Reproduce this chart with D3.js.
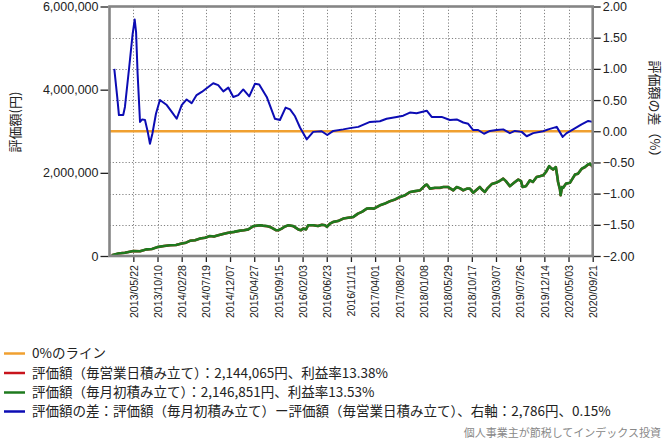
<!DOCTYPE html>
<html><head><meta charset="utf-8">
<script src="https://cdn.jsdelivr.net/npm/d3@7"></script>
<style>body{margin:0;background:#fff}svg{display:block}</style>
</head><body><svg id="c" width="664" height="440"></svg>
<script>
// ---- data ----
const axisStart = "2013-01-03";
const tickDates = ["2013-05-22","2013-10-10","2014-02-28","2014-07-19","2014-12-07","2015-04-27","2015-09-15","2016-02-03","2016-06-23","2016-11-11","2017-04-01","2017-08-20","2018-01-08","2018-05-29","2018-10-17","2019-03-07","2019-07-26","2019-12-14","2020-05-03","2020-09-21"];
const leftTicks = [0, 2000000, 4000000, 6000000];
const rightTicks = [-2, -1.5, -1, -0.5, 0, 0.5, 1, 1.5, 2];

const greenDates = ["2013-01-16","2013-02-22","2013-04-03","2013-05-22","2013-06-30","2013-08-08","2013-09-08","2013-10-15","2013-11-17","2013-12-22","2014-01-26","2014-02-28","2014-03-25","2014-04-17","2014-05-17","2014-06-15","2014-07-14","2014-08-12","2014-09-04","2014-09-29","2014-10-27","2014-11-27","2014-12-30","2015-02-03","2015-02-26","2015-03-23","2015-04-22","2015-05-13","2015-05-31","2015-06-17","2015-07-09","2015-07-28","2015-08-16","2015-09-01","2015-09-14","2015-10-04","2015-10-23","2015-11-12","2015-12-11","2016-01-09","2016-01-25","2016-02-07","2016-02-23","2016-03-07","2016-04-05","2016-05-03","2016-05-26","2016-06-13","2016-06-24","2016-07-12","2016-07-31","2016-08-27","2016-09-27","2016-10-25","2016-11-25","2016-12-22","2017-01-14","2017-02-11","2017-03-02","2017-03-25","2017-04-29","2017-05-28","2017-06-27","2017-07-26","2017-08-24","2017-09-22","2017-10-21","2017-11-19","2017-12-19","2018-01-17","2018-01-28","2018-02-15","2018-03-16","2018-04-14","2018-05-03","2018-05-31","2018-07-01","2018-07-21","2018-08-09","2018-08-28","2018-09-19","2018-10-06","2018-10-25","2018-11-16","2018-12-03","2018-12-15","2019-01-01","2019-01-19","2019-02-10","2019-03-07","2019-03-30","2019-04-18","2019-05-04","2019-05-27","2019-06-20","2019-07-15","2019-07-31","2019-08-09","2019-08-29","2019-09-21","2019-10-08","2019-10-30","2019-11-18","2019-12-07","2019-12-23","2020-01-11","2020-01-21","2020-02-03","2020-02-19","2020-02-28","2020-03-03","2020-03-14","2020-03-18","2020-03-26","2020-04-02","2020-04-18","2020-05-11","2020-05-29","2020-06-10","2020-06-27","2020-07-19","2020-08-07","2020-08-24","2020-09-05","2020-09-21"];
const greenValues = [20000,60000,80000,120000,115000,160000,170000,220000,240000,260000,265000,300000,320000,365000,380000,420000,440000,480000,470000,500000,530000,560000,580000,610000,620000,640000,720000,730000,740000,730000,720000,700000,660000,620000,620000,660000,710000,740000,720000,640000,620000,660000,640000,740000,740000,720000,750000,740000,700000,780000,820000,840000,900000,920000,940000,1020000,1060000,1140000,1150000,1140000,1220000,1260000,1320000,1360000,1420000,1460000,1540000,1560000,1580000,1700000,1720000,1620000,1640000,1640000,1660000,1660000,1580000,1660000,1630000,1580000,1620000,1620000,1520000,1600000,1660000,1600000,1540000,1640000,1730000,1760000,1810000,1860000,1800000,1680000,1760000,1840000,1800000,1660000,1680000,1820000,1780000,1900000,1920000,1940000,2020000,2160000,2120000,2080000,2140000,1900000,1780000,1600000,1460000,1660000,1640000,1740000,1760000,1880000,1960000,1980000,2100000,2140000,2200000,2220000,2146851];
const redValues = [20000,58000,79000,118000,114000,159000,170000,219000,239000,259000,265000,299000,319000,364000,379000,419000,438000,478000,469000,498000,528000,558000,578000,608000,618000,638000,717000,727000,737000,727000,718000,698000,659000,619000,619000,658000,708000,738000,718000,639000,620000,660000,641000,740000,740000,720000,750000,740000,700000,780000,820000,840000,899000,919000,939000,1019000,1059000,1138000,1148000,1138000,1218000,1258000,1317000,1357000,1417000,1457000,1536000,1556000,1576000,1695000,1715000,1617000,1637000,1637000,1657000,1657000,1577000,1657000,1627000,1578000,1618000,1618000,1520000,1600000,1660000,1600000,1540000,1640000,1730000,1760000,1810000,1860000,1800000,1680000,1760000,1840000,1800000,1660000,1680000,1820000,1780000,1900000,1920000,1940000,2019000,2158000,2118000,2078000,2138000,1900000,1780000,1601000,1461000,1660000,1640000,1740000,1759000,1879000,1958000,1977000,2097000,2137000,2196000,2216000,2144065];

const blueDates = ["2013-01-31","2013-02-17","2013-02-27","2013-03-24","2013-04-03","2013-04-28","2013-05-18","2013-05-30","2013-06-07","2013-06-16","2013-06-30","2013-07-13","2013-07-29","2013-08-14","2013-08-27","2013-09-10","2013-10-01","2013-10-24","2013-12-03","2014-01-01","2014-01-30","2014-02-28","2014-03-29","2014-04-27","2014-05-26","2014-06-25","2014-08-31","2014-09-29","2014-10-29","2014-11-27","2014-12-26","2015-01-24","2015-02-22","2015-03-29","2015-05-01","2015-05-26","2015-07-09","2015-08-26","2015-09-24","2015-10-27","2015-11-22","2015-12-21","2016-01-19","2016-02-27","2016-04-05","2016-05-24","2016-06-26","2016-07-31","2016-09-27","2016-11-05","2016-12-24","2017-03-02","2017-04-29","2017-06-07","2017-08-05","2017-09-12","2017-10-21","2017-11-29","2018-01-27","2018-02-25","2018-04-24","2018-06-11","2018-07-21","2018-08-28","2018-09-26","2018-10-25","2018-11-23","2018-12-27","2019-01-31","2019-03-11","2019-04-18","2019-05-27","2019-06-25","2019-08-04","2019-09-02","2019-10-10","2019-12-07","2020-01-06","2020-02-24","2020-03-30","2020-04-22","2020-05-30","2020-07-18","2020-08-26","2020-09-21"];
const blueValues = [1.00,0.55,0.26,0.26,0.39,1.03,1.56,1.79,1.59,0.92,0.15,0.19,0.18,-0.01,-0.20,-0.04,0.28,0.50,0.42,0.31,0.20,0.42,0.51,0.45,0.58,0.63,0.77,0.74,0.64,0.70,0.55,0.58,0.67,0.56,0.76,0.75,0.55,0.20,0.18,0.38,0.35,0.24,0.06,-0.13,-0.01,0.00,-0.06,0.005,0.03,0.05,0.07,0.15,0.16,0.20,0.23,0.25,0.30,0.29,0.33,0.23,0.23,0.18,0.19,0.14,0.12,0.02,0.02,-0.04,0.005,0.02,0.03,-0.03,0.005,-0.01,-0.08,-0.03,0.00,0.03,0.07,-0.09,-0.03,0.03,0.11,0.165,0.15];

const zeroDates = ["2013-01-03","2020-09-21"];
const zeroValues = [0, 0];

const legendLabels = ["0%のライン","評価額（毎営業日積み立て）：2,144,065円、利益率13.38%","評価額（毎月初積み立て）：2,146,851円、利益率13.53%","評価額の差：評価額（毎月初積み立て）ー評価額（毎営業日積み立て）、右軸：2,786円、0.15%"];
const legendColors = ["#f0a030","#c8141c","#1e7a1e","#0c0cb4"];
const leftTitle = "評価額(円)";
const rightTitle = "評価額の差（%）";
const watermark = "個人事業主が節税してインデックス投資";

// ---- chart ----
const parse = d3.timeParse("%Y-%m-%d");
const svg = d3.select("#c");
const L = 109.5, R = 592.7, T = 6.5, B = 256;
const x = d3.scaleTime().domain([parse(axisStart), parse(tickDates[tickDates.length-1])]).range([L, R]);
const yL = d3.scaleLinear().domain([0, 6000000]).range([B, T]);
const yR = d3.scaleLinear().domain([-2, 2]).range([B, T]);
const jp = "'Noto Sans CJK JP', sans-serif";
const num = "'Liberation Sans', Arial, sans-serif";

// grid
const grid = svg.append("g").attr("stroke", "#808080").attr("stroke-width", 1).attr("stroke-dasharray", "1.2,2");
grid.selectAll("line.h").data(rightTicks.filter(d => d > -2 && d < 2)).join("line")
  .attr("x1", L).attr("x2", R).attr("y1", d => Math.round(yR(d)) + 0.5).attr("y2", d => Math.round(yR(d)) + 0.5);
grid.selectAll("line.v").data(tickDates.slice(0, -1).map(parse)).join("line")
  .attr("x1", d => Math.round(x(d)) + 0.5).attr("x2", d => Math.round(x(d)) + 0.5).attr("y1", T).attr("y2", B);

// axes
const gL = svg.append("g").attr("transform", `translate(${L - 1},0)`)
  .call(d3.axisLeft(yL).tickValues(leftTicks).tickFormat(d3.format(",")).tickSize(8).tickPadding(2));
const gR = svg.append("g").attr("transform", `translate(${R + 1},0)`)
  .call(d3.axisRight(yR).tickValues(rightTicks).tickFormat(d3.format(".2f")).tickSize(7).tickPadding(2));
const gX = svg.append("g").attr("transform", `translate(0,${B + 1})`)
  .call(d3.axisBottom(x).tickValues(tickDates.map(parse)).tickFormat(d3.timeFormat("%Y/%m/%d")).tickSize(5));
[gL, gR, gX].forEach(g => {
  g.select(".domain").remove();
  g.selectAll(".tick line").attr("stroke", "#222").attr("stroke-width", 1.3);
  g.selectAll(".tick text").attr("fill", "#222").attr("font-family", num).attr("font-size", "12.5px");
});
gX.selectAll(".tick text").attr("font-size", "10.6px")
  .attr("transform", "rotate(-90)").attr("text-anchor", "end").attr("x", -8).attr("y", 0).attr("dy", "0.35em");

// lines
const lineL = d3.line().x(d => x(d[0])).y(d => yL(d[1]));
const lineR = d3.line().x(d => x(d[0])).y(d => yR(d[1]));
const zip = (ds, vs) => ds.map((d, i) => [parse(d), vs[i]]);
svg.append("path").datum(zip(zeroDates, zeroValues)).attr("d", lineR).attr("fill", "none").attr("stroke", legendColors[0]).attr("stroke-width", 2.5);
svg.append("path").datum(zip(greenDates, redValues)).attr("d", lineL).attr("fill", "none").attr("stroke", legendColors[1]).attr("stroke-width", 2.5).attr("stroke-linejoin", "round");
svg.append("path").datum(zip(greenDates, greenValues)).attr("d", lineL).attr("fill", "none").attr("stroke", legendColors[2]).attr("stroke-width", 2.6).attr("stroke-linejoin", "round");
svg.append("path").datum(zip(blueDates, blueValues)).attr("d", lineR).attr("fill", "none").attr("stroke", legendColors[3]).attr("stroke-width", 2).attr("stroke-linejoin", "round");

// frame
svg.append("rect").attr("x", L).attr("y", T).attr("width", R - L).attr("height", B - T)
  .attr("fill", "none").attr("stroke", "#858585").attr("stroke-width", 2.6);

// axis titles
svg.append("text").attr("transform", `translate(15,122) rotate(-90)`).attr("text-anchor", "middle").attr("dy", "0.35em")
  .attr("font-family", jp).attr("font-size", "13px").attr("fill", "#222").text(leftTitle);
svg.append("text").attr("transform", `translate(655,112) rotate(90)`).attr("text-anchor", "middle").attr("dy", "0.35em")
  .attr("font-family", jp).attr("font-size", "13px").attr("fill", "#222").text(rightTitle);

// legend
const legY = [353.5, 373, 392.5, 411.5];
const lg = svg.append("g");
legendLabels.forEach((t, i) => {
  lg.append("line").attr("x1", 4).attr("x2", 25).attr("y1", legY[i]).attr("y2", legY[i]).attr("stroke", legendColors[i]).attr("stroke-width", 2.5);
  lg.append("text").attr("x", 32).attr("y", legY[i]).attr("dy", "0.35em").attr("font-family", jp).attr("font-size", "13.5px").attr("fill", "#222").text(t);
});
svg.append("text").attr("x", 661).attr("y", 433).attr("dy", "0.35em").attr("text-anchor", "end")
  .attr("font-family", jp).attr("font-size", "11px").attr("fill", "#888").text(watermark);
</script></body></html>
